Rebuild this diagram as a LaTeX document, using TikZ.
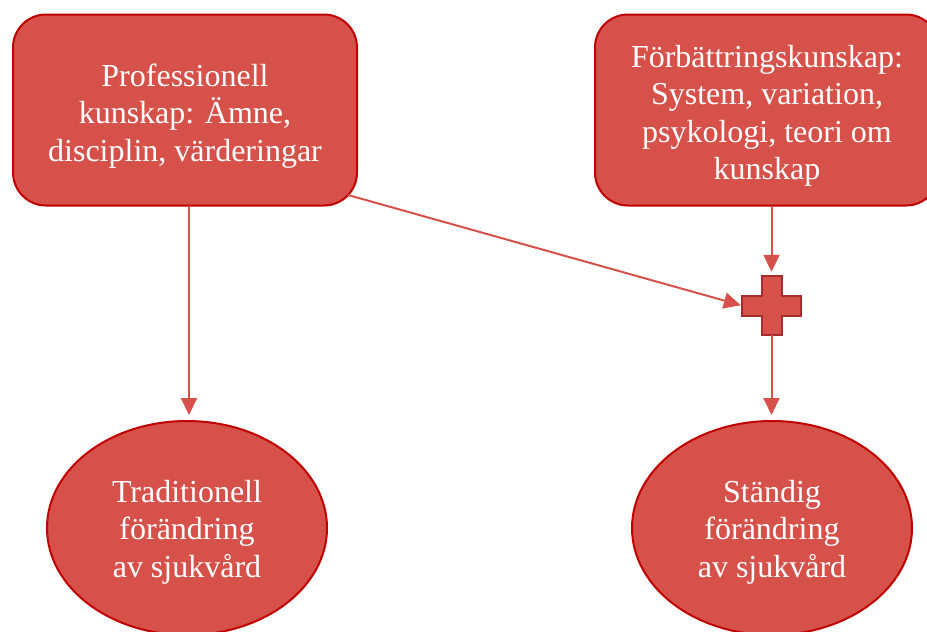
\documentclass[tikz,border=0pt]{standalone}
\usepackage{fontspec}
\setmainfont{Liberation Serif}
\usetikzlibrary{arrows.meta,shapes.geometric,calc}
\definecolor{boxfill}{RGB}{214,81,74}
\definecolor{boxline}{RGB}{192,0,0}
\definecolor{plusline}{RGB}{165,45,45}
\definecolor{arrowcol}{RGB}{214,81,74}
% centred lines of text, lowered a little inside their shape
% (the box keeps its own size, so only the ink moves)
\newcommand{\lowtext}[2]{\raisebox{#1}[\height][\depth]{\begin{tabular}{@{}c@{}}#2\end{tabular}}}
\tikzset{
  txt/.style={text=white, font=\fontsize{32}{37.5}\selectfont},
  kbox/.style={txt, draw=boxline, fill=boxfill, line width=2pt,
    rounded corners=33pt, minimum width=344pt, minimum height=191pt, inner sep=0pt},
  resultell/.style={txt, ellipse, draw=boxline, fill=boxfill, line width=2pt,
    minimum width=280pt, minimum height=214pt, inner sep=0pt},
  flow/.style={draw=arrowcol, line width=2pt,
    -{Triangle[length=17pt,width=16pt]}},
}
\begin{document}
\begin{tikzpicture}[x=1pt,y=-1pt]
  \useasboundingbox (0,0) rectangle (927,632);
  \clip (0,0) rectangle (927,632);

  % knowledge boxes
  \node[kbox] (b1) at (185,110)
    {\lowtext{-6pt}{Professionell\\kunskap: Ämne,\\disciplin, värderingar}};
  \node[kbox] (b2) at (767,110)
    {\lowtext{-6pt}{Förbättringskunskap:\\System, variation,\\psykologi, teori om\\kunskap}};

  % outcomes
  \node[resultell] (e1) at (187,528)
    {\lowtext{-4pt}{Traditionell\\förändring\\av sjukvård}};
  \node[resultell] (e2) at (772,528)
    {\lowtext{-4pt}{Ständig\\förändring\\av sjukvård}};

  % plus sign joining the two kinds of knowledge
  \node[minimum size=59pt, inner sep=0pt] (plus) at (771.5,305.5) {};
  \draw[fill=boxfill, draw=plusline, line width=2pt]
    ($(plus.center)+(-10,-29.5)$) -- ++(20,0) -- ++(0,19.5) -- ++(19.5,0)
    -- ++(0,20) -- ++(-19.5,0) -- ++(0,19.5) -- ++(-20,0) -- ++(0,-19.5)
    -- ++(-19.5,0) -- ++(0,-20) -- ++(19.5,0) -- cycle;

  % connectors
  \coordinate (c1) at (348,195);
  \draw[flow, shorten >=5pt] ($(b1.south)+(4,0)$) -- ($(e1.north)+(2,0)$);
  \draw[flow, shorten >=1pt] (c1) -- (plus.west);
  \draw[flow, shorten >=4pt] (b2.south -| plus.north) -- (plus.north);
  \draw[flow, shorten >=5pt] (plus.south) -- (e2.north -| plus.south);
\end{tikzpicture}
\end{document}
